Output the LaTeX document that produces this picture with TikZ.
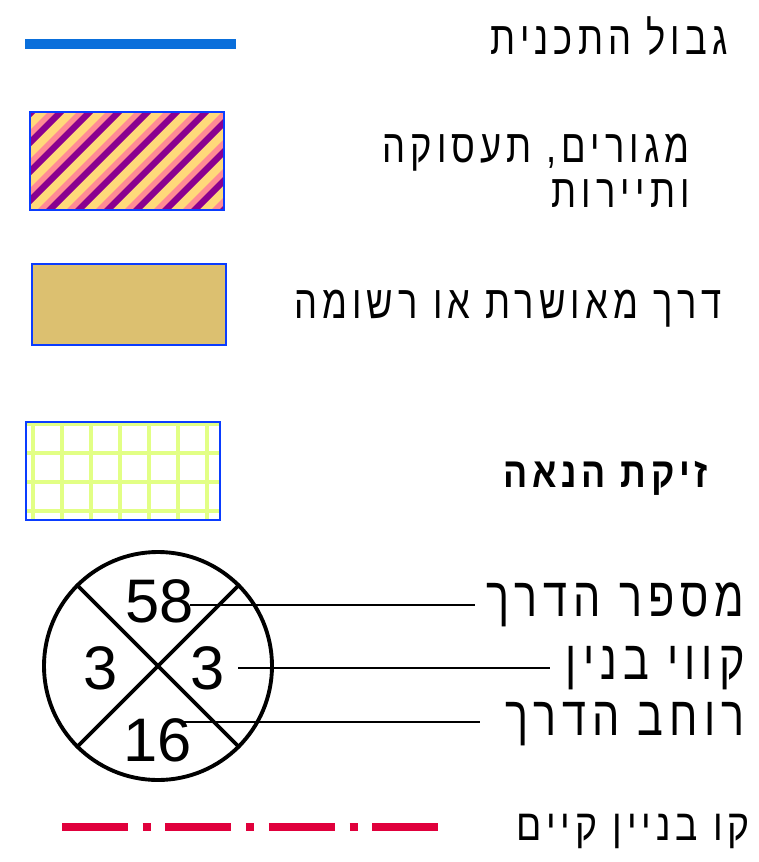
\documentclass[tikz,border=0pt]{standalone}
\usepackage{fontspec}
\usepackage{xcolor}
\usetikzlibrary{positioning}
\TeXXeTstate=1
\newfontfamily\hebcad[Script=Hebrew,FakeStretch=0.78,LetterSpace=11]{Liberation Sans}
\newfontfamily\hebwide[Script=Hebrew,FakeStretch=0.85,LetterSpace=11]{Liberation Sans}
\setmainfont{Liberation Sans}
\definecolor{planblue}{HTML}{0A6FDB}
\definecolor{edgeblue}{HTML}{0A3CFF}
\definecolor{stripepurple}{HTML}{8A0090}
\definecolor{stripepink}{HTML}{FF8A95}
\definecolor{stripeyellow}{HTML}{FFD97A}
\definecolor{roadtan}{HTML}{DCC070}
\definecolor{gridgreen}{HTML}{E2FF85}
\definecolor{existred}{HTML}{E0003C}
\tikzset{
  lgtext/.style={anchor=east,inner sep=0pt,font=\hebcad\fontsize{26.5}{25.5}\selectfont},
  lgbig/.style={anchor=east,inner sep=0pt,font=\hebcad\fontsize{31.5}{33}\selectfont},
  lgnum/.style={inner sep=0pt,font=\fontsize{35}{36}\selectfont},
  swatch/.style={draw=edgeblue,line width=1.3pt},
  leader/.style={line width=0.9pt,draw=black},
  ring/.style={line width=2.2pt,draw=black}
}
\begin{document}
\begin{tikzpicture}[x=0.02cm,y=-0.02cm]
  \useasboundingbox (0,0) rectangle (759,862);
  % plan boundary
  \coordinate (pb1) at (25,44); \coordinate (pb2) at (236,44);
  \draw[planblue,line width=5.7pt] (pb1) -- (pb2);
  \node[lgtext] (tbound) at (728,36) {\beginR גבול התכנית\endR};
  % mixed use, striped
  \begin{scope}
    \clip (30,112) rectangle (224,210);
    \fill[stripeyellow] (30,112) rectangle (224,210);
    \foreach \s in {-100,-71,...,240} {
      \fill[stripepurple] (\s,210) -- (\s+9,210) -- (\s+107,112) -- (\s+98,112) -- cycle;
      \fill[stripepink] (\s+21,210) -- (\s+29,210) -- (\s+127,112) -- (\s+119,112) -- cycle;
    }
  \end{scope}
  \node[swatch,minimum width=194*0.02cm,minimum height=98*0.02cm,inner sep=0pt] (smixed) at (127,161) {};
  \node[lgtext,align=right] (tmixed) at (690,171) {\beginR מגורים, תעסוקה\endR\\\beginR ותיירות\endR};
  % approved road
  \node[swatch,fill=roadtan,minimum width=194*0.02cm,minimum height=81*0.02cm,inner sep=0pt] (sroad) at (129,304.5) {};
  \node[lgtext] (troad) at (722,309) {\beginR דרך מאושרת או רשומה\endR};
  % easement grid
  \begin{scope}
    \clip (26,422) rectangle (220,520);
    \foreach \gx in {33,62,...,220} \draw[gridgreen,line width=2.3pt] (\gx,415) -- (\gx,525);
    \foreach \gy in {424,453,...,520} \draw[gridgreen,line width=2.3pt] (20,\gy) -- (225,\gy);
  \end{scope}
  \node[swatch,minimum width=194*0.02cm,minimum height=98*0.02cm,inner sep=0pt] (sease) at (123,471) {};
  \node[anchor=east,inner sep=0pt,font=\hebwide\bfseries\fontsize{24}{25}\selectfont] (tease) at (708,478) {\beginR זיקת הנאה\endR};
  % road circle
  \node[ring,circle,minimum size=228*0.02cm,inner sep=0pt] (rc) at (158,666) {};
  \draw[ring] (rc.135) -- (rc.-45);
  \draw[ring] (rc.45) -- (rc.-135);
  \node[lgnum] (n58) at (160,601) {58};
  \node[lgnum] (nleft) at (101,668) {3};
  \node[lgnum] (nright) at (208,668) {3};
  \node[lgnum] (n16) at (158,740) {16};
  \node[lgbig] (tnum) at (745,605) {\beginR מספר הדרך\endR};
  \node[lgbig] (tbl) at (745,668) {\beginR קווי בנין\endR};
  \node[lgbig] (twidth) at (745,724) {\beginR רוחב הדרך\endR};
  \coordinate (l1a) at (190,605); \coordinate (l1b) at (475,605);
  \coordinate (l2a) at (238,668); \coordinate (l2b) at (550,668);
  \coordinate (l3a) at (180,722); \coordinate (l3b) at (480,722);
  \draw[leader] (l1a) -- (l1b);
  \draw[leader] (l2a) -- (l2b);
  \draw[leader] (l3a) -- (l3b);
  % existing building line
  \coordinate (eb1) at (62,827); \coordinate (eb2) at (440,827);
  \draw[existred,line width=4.5pt,dash pattern=on 37.4pt off 8.5pt on 4.5pt off 8.5pt] (eb1) -- (eb2);
  \node[anchor=east,inner sep=0pt,font=\hebwide\fontsize{25}{26}\selectfont] (texist) at (750,831) {\beginR קו בניין קיים\endR};
\end{tikzpicture}
\end{document}
